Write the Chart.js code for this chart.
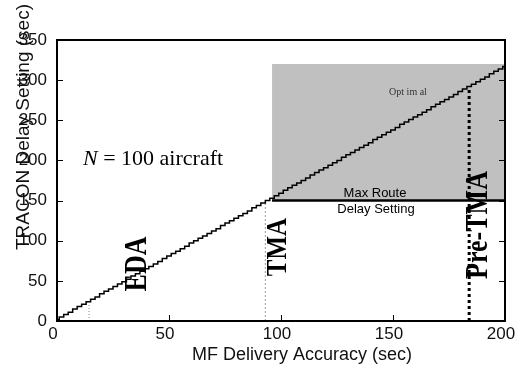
<!DOCTYPE html>
<html lang="en">
  <head>
    <meta charset="UTF-8" />
    <title>TRACON Delay Setting</title>
    <style>
      * {
        box-sizing: border-box;
        margin: 0;
        padding: 0;
      }
      body {
        background: #fff;
      }
      #wrap {
        width: 515px;
        height: 377px;
      }
    </style>
  </head>
  <body>
    <div id="wrap"><canvas id="chart" width="515" height="377"></canvas></div>

    <script src="https://cdn.jsdelivr.net/npm/chart.js"></script>
    <script>
      // staircase curve
      const accuracy = [0, 2, 4, 6, 8, 10, 12, 14, 16, 18, 20, 22, 24, 26, 28, 30, 32, 34, 36, 38, 40, 42, 44, 46, 48, 50,
        52, 54, 56, 58, 60, 62, 64, 66, 68, 70, 72, 74, 76, 78, 80, 82, 84, 86, 88, 90, 92, 94, 96, 98, 100,
        102, 104, 106, 108, 110, 112, 114, 116, 118, 120, 122, 124, 126, 128, 130, 132, 134, 136, 138, 140, 142, 144, 146, 148, 150,
        152, 154, 156, 158, 160, 162, 164, 166, 168, 170, 172, 174, 176, 178, 180, 182, 184, 186, 188, 190, 192, 194, 196, 198, 200];
      const delaySetting = [2, 5, 8, 11, 15, 18, 21, 24, 27, 30, 34, 37, 40, 43, 46, 49, 52, 56, 59, 62, 65, 68, 71, 74, 78, 81,
        84, 87, 90, 93, 97, 100, 103, 106, 109, 112, 115, 119, 122, 125, 128, 131, 134, 137, 141, 144, 147, 150, 153, 156, 159,
        163, 166, 169, 172, 175, 178, 182, 185, 188, 191, 194, 197, 200, 204, 207, 210, 213, 216, 219, 222, 226, 229, 232, 235, 238,
        241, 245, 248, 251, 254, 257, 260, 263, 267, 270, 273, 276, 279, 282, 286, 289, 292, 295, 298, 301, 304, 308, 311, 314, 317];

      // "optimal" region and max route delay line
      const optimalX = [96, 200];
      const optimalTop = 320;
      const maxRouteDelay = 150;

      // markers: [x, top of dotted line]
      const edaMark = [14.3, 22.5];
      const tmaMark = [93, 147];
      const preTmaMark = [184, 292];

      const xTicks = [0, 50, 100, 150, 200];
      const yTicks = [0, 50, 100, 150, 200, 250, 300, 350];

      const pts = (xs, ys) => xs.map((x, i) => ({ x: x, y: ys[i] }));
      const vline = (m) => [{ x: m[0], y: 0 }, { x: m[0], y: m[1] }];

      const decorPlugin = {
        id: "decor",
        afterDatasetsDraw(chart) {
          const ctx = chart.ctx;
          const a = chart.chartArea;
          const xs = chart.scales.x;
          const ys = chart.scales.y;
          ctx.save();
          // frame
          ctx.strokeStyle = "#000";
          ctx.lineWidth = 2;
          ctx.strokeRect(a.left, a.top, a.right - a.left, a.bottom - a.top);
          // inner ticks
          ctx.lineWidth = 1;
          ctx.beginPath();
          yTicks.forEach((v) => {
            const y = Math.round(ys.getPixelForValue(v)) + 0.5;
            ctx.moveTo(a.left, y);
            ctx.lineTo(a.left + 6, y);
            ctx.moveTo(a.right, y);
            ctx.lineTo(a.right - 6, y);
          });
          xTicks.forEach((v) => {
            const x = Math.round(xs.getPixelForValue(v)) + 0.5;
            ctx.moveTo(x, a.bottom);
            ctx.lineTo(x, a.bottom - 6);
          });
          ctx.stroke();

          ctx.fillStyle = "#000";
          // N = 100 aircraft
          ctx.textBaseline = "middle";
          ctx.textAlign = "left";
          ctx.font = "italic 22px 'Liberation Serif'";
          ctx.fillText("N", 83, 159);
          const nw = ctx.measureText("N").width;
          ctx.font = "22px 'Liberation Serif'";
          ctx.fillText(" = 100 aircraft", 83 + nw, 159);

          // region labels
          ctx.textAlign = "center";
          ctx.font = "10px 'Liberation Serif'";
          ctx.fillStyle = "#333";
          ctx.fillText("Opt im al", 408, 92);
          ctx.fillStyle = "#000";
          ctx.font = "13px 'Liberation Sans'";
          ctx.fillText("Max Route", 375, 193);
          ctx.fillText("Delay Setting", 376, 209);

          // rotated marker labels
          const rot = (txt, x, y, size) => {
            ctx.save();
            ctx.translate(x, y);
            ctx.rotate(-Math.PI / 2);
            ctx.scale(1, 1.2);
            ctx.font = "bold " + size + "px 'Liberation Serif'";
            ctx.textAlign = "center";
            ctx.textBaseline = "middle";
            ctx.fillText(txt, 0, 0);
            ctx.restore();
          };
          rot("EDA", 138, 264, 26);
          rot("TMA", 278, 247, 25);
          rot("Pre-TMA", 479, 225, 26);

          // axis titles
          ctx.font = "18px 'Liberation Sans'";
          ctx.fillStyle = "#111";
          ctx.fillText("MF Delivery Accuracy (sec)", 302, 355);
          ctx.save();
          ctx.translate(24, 127);
          ctx.rotate(-Math.PI / 2);
          ctx.font = "19px 'Liberation Sans'";
          ctx.fillText("TRACON Delay Setting (sec)", 0, 0);
          ctx.restore();
          ctx.restore();
        },
      };

      const ctx = document.getElementById("chart").getContext("2d");
      const chartInstance = new Chart(ctx, {
        type: "line",
        data: {
          datasets: [
            {
              label: "curve",
              data: pts(accuracy, delaySetting),
              borderColor: "#000",
              borderWidth: 1.5,
              stepped: "middle",
              pointRadius: 0,
              fill: false,
              order: 1,
            },
            {
              label: "Max Route Delay Setting",
              data: pts(optimalX, [maxRouteDelay, maxRouteDelay]),
              borderColor: "#000",
              borderWidth: 2.5,
              pointRadius: 0,
              fill: false,
              order: 2,
            },
            {
              label: "EDA",
              data: vline(edaMark),
              borderColor: "#888",
              borderWidth: 1,
              borderDash: [1, 2],
              pointRadius: 0,
              fill: false,
              order: 3,
            },
            {
              label: "TMA",
              data: vline(tmaMark),
              borderColor: "#999",
              borderWidth: 1,
              borderDash: [2, 2],
              pointRadius: 0,
              fill: false,
              order: 3,
            },
            {
              label: "Pre-TMA",
              data: vline(preTmaMark),
              borderColor: "#000",
              borderWidth: 3,
              borderDash: [3, 3],
              pointRadius: 0,
              fill: false,
              order: 3,
            },
            {
              label: "Optimal",
              data: pts(optimalX, [optimalTop, optimalTop]),
              borderColor: "rgba(0,0,0,0)",
              borderWidth: 0,
              backgroundColor: "#c0c0c0",
              pointRadius: 0,
              fill: { value: maxRouteDelay },
              order: 10,
            },
          ],
        },
        options: {
          responsive: false,
          animation: false,
          layout: { padding: { top: 40, right: 10, left: 0, bottom: 0 } },
          plugins: {
            legend: { display: false },
            tooltip: { enabled: false },
          },
          scales: {
            x: {
              type: "linear",
              min: 0,
              max: 200,
              grid: { display: false, drawTicks: false },
              border: { display: false },
              afterBuildTicks: (s) => {
                s.ticks = xTicks.map((v) => ({ value: v }));
              },
              afterFit: (s) => {
                s.height = 56;
                s.paddingLeft = 0;
                s.paddingRight = 0;
              },
              ticks: {
                padding: 3,
                labelOffset: -4,
                color: "#111",
                font: { family: "'Liberation Sans'", size: 17 },
              },
            },
            y: {
              type: "linear",
              min: 0,
              max: 350,
              grid: { display: false, drawTicks: false },
              border: { display: false },
              afterBuildTicks: (s) => {
                s.ticks = yTicks.map((v) => ({ value: v }));
              },
              afterFit: (s) => {
                s.width = 57;
                s.paddingTop = 0;
                s.paddingBottom = 0;
              },
              ticks: {
                padding: 10,
                color: "#111",
                font: { family: "'Liberation Sans'", size: 17 },
              },
            },
          },
        },
        plugins: [decorPlugin],
      });
    </script>
  </body>
</html>
